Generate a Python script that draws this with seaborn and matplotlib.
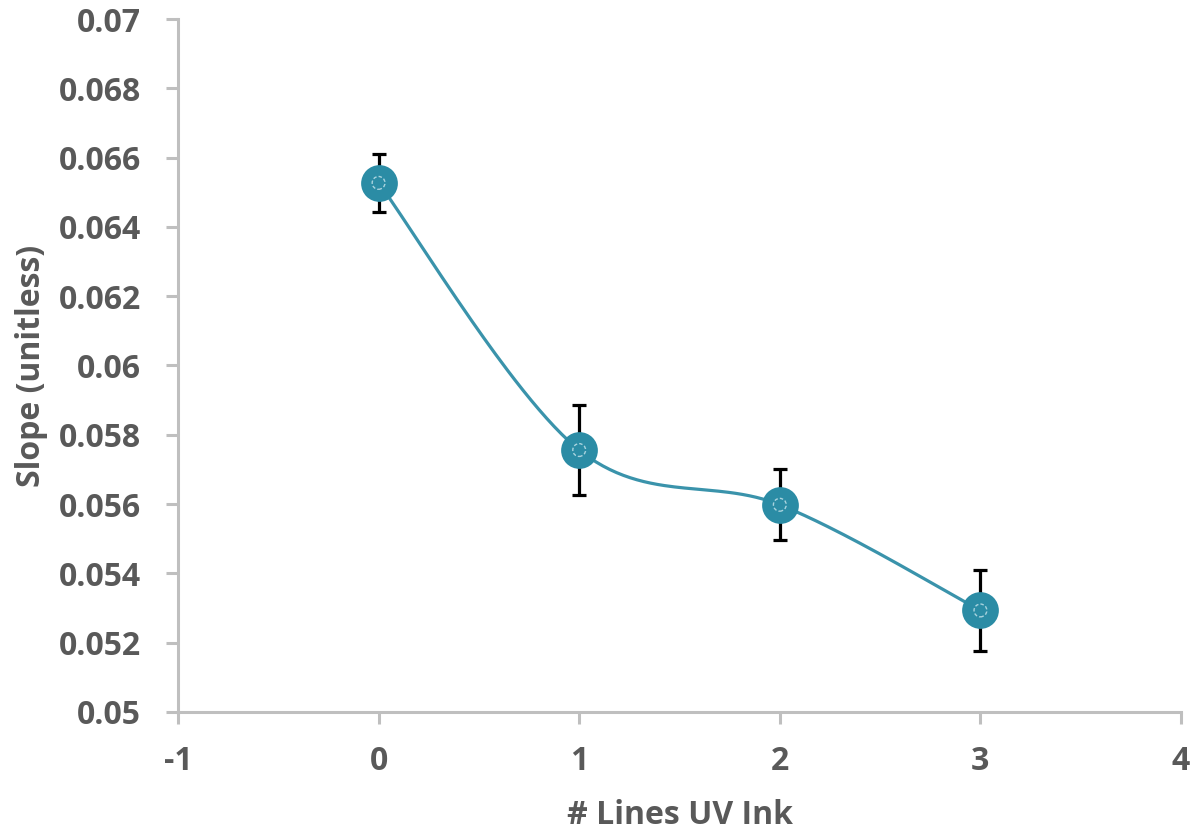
import numpy as np
import pandas as pd
import matplotlib
matplotlib.use("Agg")
import matplotlib.pyplot as plt
import seaborn as sns

# Measured slopes versus number of UV-ink lines
lines_uv_ink = [0, 1, 2, 3]
slope = [0.06527, 0.05756, 0.05598, 0.05293]
slope_err = [0.00083, 0.00131, 0.00102, 0.00117]

x_ticks = [-1, 0, 1, 2, 3, 4]
y_ticks = [0.05, 0.052, 0.054, 0.056, 0.058, 0.06, 0.062, 0.064, 0.066, 0.068, 0.07]
y_tick_labels = ["0.05", "0.052", "0.054", "0.056", "0.058", "0.06",
                 "0.062", "0.064", "0.066", "0.068", "0.07"]

LINE_COLOR = "#3A93AB"
MARKER_COLOR = "#2B8CA5"
TEXT_COLOR = "#595959"
AXIS_COLOR = "#BFBFBF"

sns.set_style("white")
plt.rcParams["font.family"] = ["Open Sans", "DejaVu Sans"]


def smooth_curve(xs, ys, n=60):
    """Catmull-Rom spline through the points (smoothed line style)."""
    p = np.column_stack([xs, ys]).astype(float)
    p = np.vstack([p[0], p, p[-1]])
    out = []
    for i in range(1, len(p) - 2):
        p0, p1, p2, p3 = p[i - 1], p[i], p[i + 1], p[i + 2]
        t = np.linspace(0, 1, n)[:, None]
        seg = 0.5 * ((2 * p1) + (-p0 + p2) * t
                     + (2 * p0 - 5 * p1 + 4 * p2 - p3) * t ** 2
                     + (-p0 + 3 * p1 - 3 * p2 + p3) * t ** 3)
        out.append(seg)
    c = np.vstack(out)
    return c[:, 0], c[:, 1]


df = pd.DataFrame({"lines": lines_uv_ink, "slope": slope, "err": slope_err})

fig = plt.figure(figsize=(11.96, 8.30), dpi=100)
ax = fig.add_axes([0.1488, 0.1422, 0.8387, 0.8349])

sx, sy = smooth_curve(df["lines"], df["slope"])
ax.plot(sx, sy, color=LINE_COLOR, lw=2.3, zorder=2)

ax.errorbar(df["lines"], df["slope"], yerr=df["err"], fmt="none",
            ecolor="black", elinewidth=2.3, capsize=4.8, capthick=2.3, zorder=3)

sns.scatterplot(data=df, x="lines", y="slope", ax=ax, s=700,
                color=MARKER_COLOR, edgecolor=MARKER_COLOR, linewidth=0,
                zorder=4, legend=False)
# small hollow ring at the centre of each marker
ax.scatter(df["lines"], df["slope"], s=85, facecolor="none",
           edgecolor="#A9D3DE", linewidth=1.0, linestyle=(0, (2.5, 1.5)), zorder=5)

ax.set_xlim(-1, 4)
ax.set_ylim(0.05, 0.07)
ax.set_xticks(x_ticks)
ax.set_xticklabels([str(v) for v in x_ticks])
ax.set_yticks(y_ticks)
ax.set_yticklabels(y_tick_labels)

for side in ["top", "right"]:
    ax.spines[side].set_visible(False)
for side in ["left", "bottom"]:
    ax.spines[side].set_color(AXIS_COLOR)
    ax.spines[side].set_linewidth(2.2)

ax.tick_params(axis="both", which="major", direction="out", length=8.6,
               width=2.2, color=AXIS_COLOR, labelcolor=TEXT_COLOR,
               labelsize=23, bottom=True, left=True)
ax.tick_params(axis="y", pad=18)
ax.tick_params(axis="x", pad=15.5)
for lab in ax.get_xticklabels() + ax.get_yticklabels():
    lab.set_fontweight("bold")

ax.set_xlabel("# Lines UV Ink", fontsize=23, fontweight="bold",
              color=TEXT_COLOR, labelpad=15)
ax.set_ylabel("Slope (unitless)", fontsize=23, fontweight="bold",
              color=TEXT_COLOR, labelpad=8)

fig.savefig("out.png", dpi=100)
